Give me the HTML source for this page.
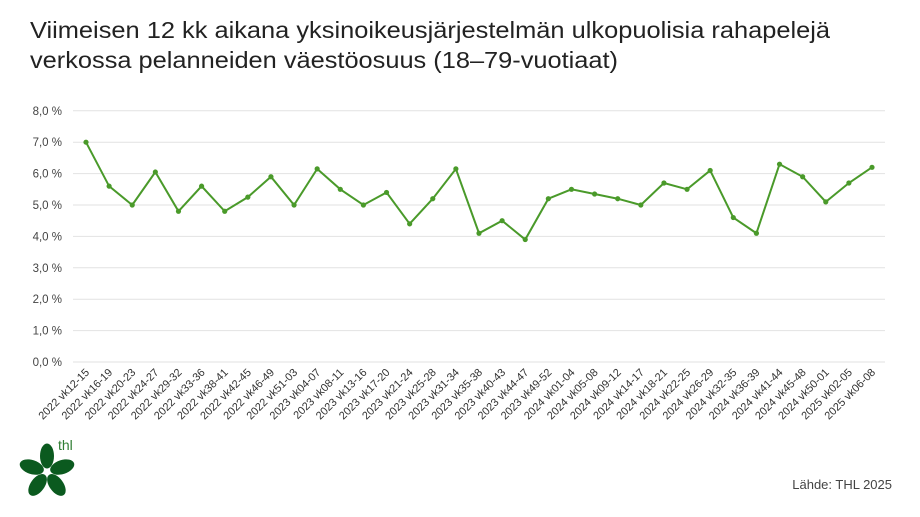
<!DOCTYPE html>
<html><head><meta charset="utf-8"><style>
body{margin:0;background:#fff;}
svg{display:block;font-family:"Liberation Sans",sans-serif;}
</style></head><body>
<svg width="920" height="517" viewBox="0 0 920 517" xmlns="http://www.w3.org/2000/svg">
<rect width="920" height="517" fill="#fff"/>
<text x="30" y="38" font-size="23" fill="#222" textLength="800" lengthAdjust="spacingAndGlyphs">Viimeisen 12 kk aikana yksinoikeusjärjestelmän ulkopuolisia rahapelejä</text>
<text x="30" y="68" font-size="23" fill="#222" textLength="588" lengthAdjust="spacingAndGlyphs">verkossa pelanneiden väestöosuus (18–79-vuotiaat)</text>
<g id="grid" stroke="#e2e2e2" stroke-width="1"></g>
<g id="yl" font-size="11.5" fill="#444" text-anchor="end"></g>
<g id="xl" font-size="11" fill="#333" text-anchor="end"></g>
<polyline id="ln" fill="none" stroke="#4a9a2a" stroke-width="2"/>
<g id="pts" fill="#4a9a2a"></g>
<g fill="#0b5a1f" transform="translate(47,472)">
<ellipse cx="0" cy="-16" rx="7" ry="12.5"/>
<ellipse cx="0" cy="-16" rx="7" ry="12.5" transform="rotate(72)"/>
<ellipse cx="0" cy="-16" rx="7" ry="12.5" transform="rotate(144)"/>
<ellipse cx="0" cy="-16" rx="7" ry="12.5" transform="rotate(216)"/>
<ellipse cx="0" cy="-16" rx="7" ry="12.5" transform="rotate(288)"/>
</g>
<text x="58" y="450" font-size="14" fill="#2e7d32">thl</text>
<text x="892" y="489" font-size="13" fill="#444" text-anchor="end">Lähde: THL 2025</text>
<script>
var ns="http://www.w3.org/2000/svg";
function el(p,t,a,tx){var e=document.createElementNS(ns,t);for(var k in a)e.setAttribute(k,a[k]);if(tx)e.textContent=tx;document.getElementById(p).appendChild(e);return e;}
var y0=362,dy=31.4;
for(var i=0;i<=8;i++){var y=y0-i*dy;el("grid","line",{x1:73,x2:885,y1:y,y2:y});el("yl","text",{x:62,y:y+4},i+",0 %");}
var labs=["2022 vk12-15","2022 vk16-19","2022 vk20-23","2022 vk24-27","2022 vk29-32","2022 vk33-36","2022 vk38-41","2022 vk42-45","2022 vk46-49","2022 vk51-03","2023 vk04-07","2023 vk08-11","2023 vk13-16","2023 vk17-20","2023 vk21-24","2023 vk25-28","2023 vk31-34","2023 vk35-38","2023 vk40-43","2023 vk44-47","2023 vk49-52","2024 vk01-04","2024 vk05-08","2024 vk09-12","2024 vk14-17","2024 vk18-21","2024 vk22-25","2024 vk26-29","2024 vk32-35","2024 vk36-39","2024 vk41-44","2024 vk45-48","2024 vk50-01","2025 vk02-05","2025 vk06-08"];
var v=[7.0,5.6,5.0,6.05,4.8,5.6,4.8,5.25,5.9,5.0,6.15,5.5,5.0,5.4,4.4,5.2,6.15,4.1,4.5,3.9,5.2,5.5,5.35,5.2,5.0,5.7,5.5,6.1,4.6,4.1,6.3,5.9,5.1,5.7,6.2];
var pts=[];
for(var i=0;i<35;i++){var x=86+i*(872-86)/34,y=y0-v[i]*dy;pts.push(x+","+y);el("pts","circle",{cx:x,cy:y,r:2.6});
el("xl","text",{x:x+4,y:373,transform:"rotate(-45 "+(x+4)+" 373)"},labs[i]);}
document.getElementById("ln").setAttribute("points",pts.join(" "));
</script>
</svg>
</body></html>
